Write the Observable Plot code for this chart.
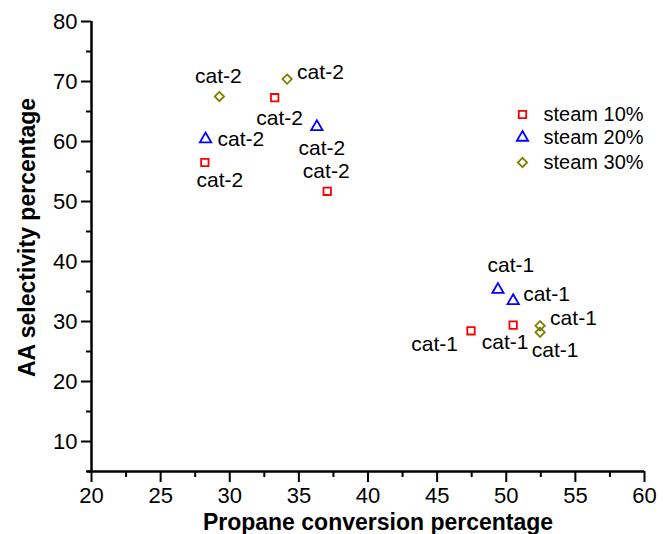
<!DOCTYPE html>
<html>
<head>
<meta charset="utf-8">
<script src="https://cdn.jsdelivr.net/npm/d3@7"></script>
<script src="https://cdn.jsdelivr.net/npm/@observablehq/plot@0.6"></script>
<style>
  html, body { margin: 0; padding: 0; background: #fff; color: #000; }
  #chart { width: 663px; height: 534px; }
</style>
</head>
<body>
<div id="chart"></div>
<script>
// ---- data ----
const series = ["steam 10%", "steam 20%", "steam 30%"];
const seriesColors = ["#ff0000", "#0000ff", "#808000"];
const seriesSymbols = ["square", "triangle", "diamond2"];

const conv10 = [28.2, 33.25, 37.05, 47.45, 50.5];
const sel10 = [56.5, 67.3, 51.7, 28.45, 29.4];
const cat10 = ["cat-2", "cat-2", "cat-2", "cat-1", "cat-1"];
const place10 = ["se", "s", "n", "wsw", "sw"];

const conv20 = [28.25, 36.3, 49.4, 50.5];
const sel20 = [60.4, 62.45, 35.3, 33.45];
const cat20 = ["cat-2", "cat-2", "cat-1", "cat-1"];
const place20 = ["e", "s", "ne", "ene"];

const conv30 = [29.25, 34.15, 52.45, 52.45];
const sel30 = [67.5, 70.4, 29.3, 28.2];
const cat30 = ["cat-2", "cat-2", "cat-1", "cat-1"];
const place30 = ["n", "ene", "ene", "se"];

const xTicks = [20, 25, 30, 35, 40, 45, 50, 55, 60];
const yTicks = [10, 20, 30, 40, 50, 60, 70, 80];
const xDomain = [20, 60];
const yDomain = [5, 80];
const xTitle = "Propane conversion percentage";
const yTitle = "AA selectivity percentage";

// ---- build table ----
const groups = [
  [conv10, sel10, cat10, place10],
  [conv20, sel20, cat20, place20],
  [conv30, sel30, cat30, place30]
];
const rows = groups.flatMap(([xs, ys, cats, places], i) =>
  xs.map((x, j) => ({series: series[i], x, y: ys[j], label: cats[j], place: places[j]}))
);

// label placement styles (offsets in px relative to the point)
const placements = {
  n:   {dx: -1, dy: -20, textAnchor: "middle"},
  ne:  {dx: 13, dy: -24, textAnchor: "middle"},
  s:   {dx: 5,  dy: 21,  textAnchor: "middle"},
  se:  {dx: 15, dy: 18,  textAnchor: "middle"},
  sw:  {dx: -8, dy: 17,  textAnchor: "middle"},
  e:   {dx: 12, dy: 0,   textAnchor: "start"},
  ene: {dx: 10, dy: -7,  textAnchor: "start"},
  wsw: {dx: -13, dy: 13, textAnchor: "end"}
};

const xMinor = d3.range(xDomain[0] + 2.5, xDomain[1], 5);
const yMinor = d3.range(yDomain[0], yDomain[1], 10);

const labelFont = 21;
const legendRowY = [93, 116, 141];

const marks = [
  // minor ticks
  Plot.axisX(xMinor, {tickSize: 6, tickFormat: () => "", strokeWidth: 2, label: null}),
  Plot.axisY(yMinor, {tickSize: 5, tickFormat: () => "", strokeWidth: 2, label: null}),
  // major ticks
  Plot.axisX(xTicks, {tickSize: 11, tickPadding: 5, fontSize: 22, strokeWidth: 2, label: null}),
  Plot.axisY(yTicks, {tickSize: 10, tickPadding: 4, fontSize: 22, strokeWidth: 2, label: null}),
  // axis lines
  Plot.ruleY([yDomain[0]], {strokeWidth: 2.5, stroke: "#000", insetLeft: -4}),
  Plot.ruleX([xDomain[0]], {strokeWidth: 2.5, stroke: "#000"}),
  // points
  Plot.dot(rows, {x: "x", y: "y", symbol: "series", stroke: "series", fill: "none", r: 4.2, strokeWidth: 1.8}),
  // point labels
  ...Object.entries(placements).map(([key, opt]) =>
    Plot.text(rows.filter(d => d.place === key), {
      x: "x", y: "y", text: "label", fontSize: labelFont, fill: "#000", ...opt
    })
  ),
  // axis titles
  Plot.text([xTitle], {frameAnchor: "bottom", textAnchor: "middle", lineAnchor: "middle",
    dx: 10, dy: 51, fontSize: 23, fontWeight: "bold", fill: "#000"}),
  Plot.text([yTitle], {frameAnchor: "left", textAnchor: "middle", lineAnchor: "middle", rotate: -90,
    dx: -64, dy: -9, fontSize: 23, fontWeight: "bold", fill: "#000"}),
  // legend
  ...series.map((s, i) => Plot.dot([s], {
    frameAnchor: "top-left", dx: 431, dy: legendRowY[i], symbol: d => d, stroke: d => d,
    fill: "none", r: 4.2, strokeWidth: 1.8
  })),
  ...series.map((s, i) => Plot.text([s], {
    frameAnchor: "top-left", dx: 452, dy: legendRowY[i], text: d => d,
    textAnchor: "start", lineAnchor: "middle", fontSize: 20, fill: "#000"
  }))
];

const chart = Plot.plot({
  width: 663,
  height: 534,
  marginLeft: 91,
  marginRight: 19,
  marginTop: 21,
  marginBottom: 63,
  style: {fontFamily: "'Liberation Sans', Arial, sans-serif", background: "#fff", color: "#000"},
  x: {domain: xDomain},
  y: {domain: yDomain},
  color: {domain: series, range: seriesColors},
  symbol: {domain: series, range: seriesSymbols},
  marks
});
document.getElementById("chart").appendChild(chart);
</script>
</body>
</html>
